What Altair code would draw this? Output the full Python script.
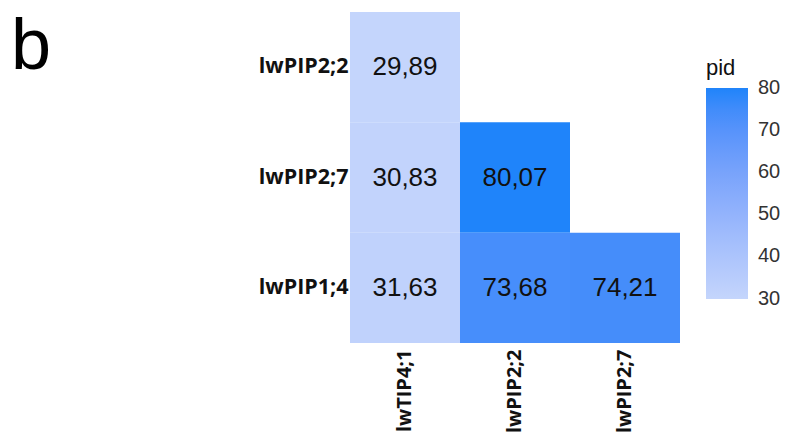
import altair as alt
import pandas as pd

x_cats = ["lwTIP4;1", "lwPIP2;2", "lwPIP2;7"]
y_cats = ["lwPIP2;2", "lwPIP2;7", "lwPIP1;4"]

cell_x = ["lwTIP4;1", "lwTIP4;1", "lwTIP4;1", "lwPIP2;2", "lwPIP2;2", "lwPIP2;7"]
cell_y = ["lwPIP2;2", "lwPIP2;7", "lwPIP1;4", "lwPIP2;7", "lwPIP1;4", "lwPIP1;4"]
pid = [29.89, 30.83, 31.63, 80.07, 73.68, 74.21]

legend_ticks = [30, 40, 50, 60, 70, 80]
panel_label = ["b"]

df = pd.DataFrame({"a": cell_x, "b": cell_y, "pid": pid})

low_col, high_col = "#c4d5fc", "#1f84fa"

base = alt.Chart(df).encode(
    x=alt.X("a:N", sort=x_cats, title=None,
            scale=alt.Scale(paddingInner=0, paddingOuter=0),
            axis=alt.Axis(labelAngle=270, labelAlign="right", labelBaseline="middle",
                          labelFont="Open Sans", labelFontWeight="bold", labelFontSize=20,
                          labelColor="#111111", labelPadding=6, domain=False, ticks=False, grid=False)),
    y=alt.Y("b:N", sort=y_cats, title=None,
            scale=alt.Scale(paddingInner=0, paddingOuter=0),
            axis=alt.Axis(labelFont="Open Sans", labelFontWeight="bold", labelFontSize=21.5,
                          labelColor="#111111", labelPadding=2, domain=False, ticks=False, grid=False)),
)

rects = base.mark_rect().encode(
    color=alt.Color("pid:Q",
                    scale=alt.Scale(domain=[29.89, 80.07], range=[low_col, high_col], interpolate="lab"),
                    legend=alt.Legend(title="pid", values=legend_ticks, orient="none",
                                      legendX=356, legendY=46,
                                      gradientLength=211, gradientThickness=42,
                                      gradientStrokeWidth=0,
                                      titleFont="Liberation Sans", titleFontSize=22, titleFontWeight="normal",
                                      titleColor="#111111", titlePadding=8,
                                      labelFont="Liberation Sans", labelFontSize=20, labelColor="#333333",
                                      labelOffset=10, labelOverlap=False, direction="vertical")),
)

texts = base.mark_text(font="Liberation Sans", fontSize=26, color="#111111").transform_calculate(
    lab="replace(format(datum.pid, '.2f'), '.', ',')"
).encode(text="lab:N")

panel = alt.Chart(pd.DataFrame({"t": panel_label})).mark_text(
    font="Liberation Sans", fontSize=72, color="#000000", align="left", baseline="alphabetic"
).encode(text="t:N", x=alt.value(-339), y=alt.value(57))

chart = (rects + texts + panel).properties(
    width=330, height=331,
    autosize=alt.AutoSizeParams(type="none"),
    padding={"left": 342, "top": 4, "right": 102, "bottom": 90},
).configure_view(stroke=None)

chart.save("out.html", embed_options={"renderer": "svg", "actions": False})
